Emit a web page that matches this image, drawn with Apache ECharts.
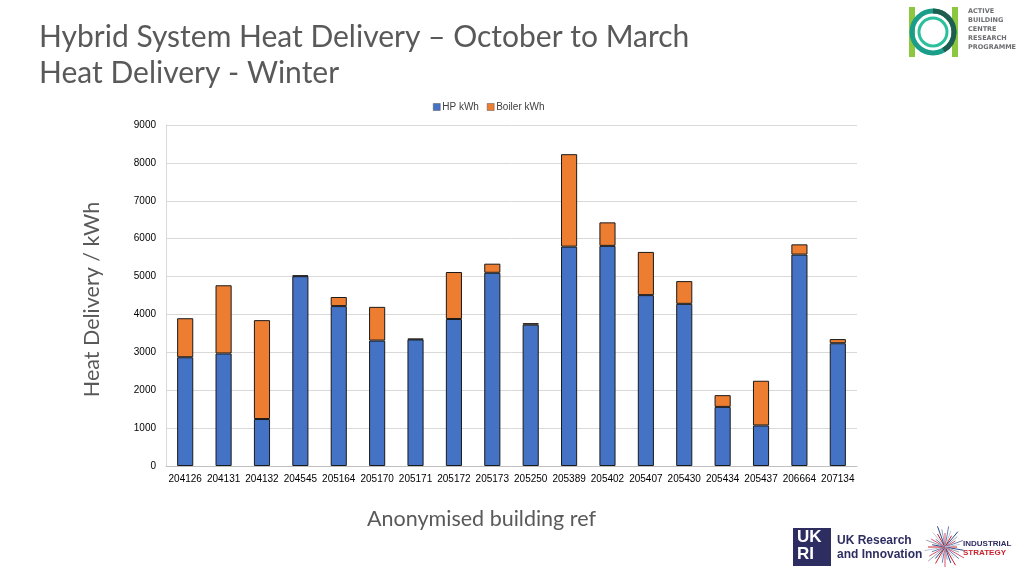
<!DOCTYPE html>
<html>
<head>
<meta charset="utf-8">
<style>html,body{margin:0;padding:0;background:#fff}#c{width:1024px;height:576px}</style>
<script src="https://cdn.jsdelivr.net/npm/echarts@6/dist/echarts.min.js"></script>
</head>
<body>
<div id="c"></div>
<script>
const categories = ['204126','204131','204132','204545','205164','205170','205171','205172','205173','205250','205389','205402','205407','205430','205434','205437','206664','207134'];
const hpKwh =     [2870, 2970, 1240, 5010, 4220, 3310, 3340, 3880, 5100, 3730, 5790, 5810, 4510, 4280, 1560, 1070, 5580, 3240];
const boilerKwh = [1030, 1800, 2610,   20,  240,  890,   20, 1240,  240,   40, 2440,  620, 1140,  600,  310, 1180,  270,  110];
const yTicks = {min: 0, max: 9000, interval: 1000};

const chart = echarts.init(document.getElementById('c'));

// starburst for industrial strategy logo (decorative)
const burst = [];
const bcx = 945, bcy = 547;
const bcols = ['#c8202f','#2b4a8b','#9aa3b5','#d9536a','#6b7fb0','#bfc5d3'];
for (let i = 0; i < 36; i++) {
  const a = i * Math.PI * 2 / 36;
  const r = 12 + (i * 7 % 11);
  burst.push({type:'line', shape:{x1:bcx, y1:bcy, x2:bcx + Math.cos(a)*r, y2:bcy + Math.sin(a)*r},
    style:{stroke:bcols[i % bcols.length], lineWidth:1}, silent:true});
}

chart.setOption({
  animation: false,
  title: {
    text: 'Hybrid System Heat Delivery – October to March\nHeat Delivery - Winter',
    left: 34, top: 14,
    textStyle: {fontFamily: 'Lato', fontSize: 30, fontWeight: 'normal', color: '#595959', lineHeight: 36}
  },
  legend: {
    top: 97, left: 428, itemWidth: 7, itemHeight: 7, itemGap: 8, icon: 'rect',
    itemStyle: {borderWidth: 0.5, borderColor: '#555'},
    textStyle: {fontFamily: 'Liberation Sans', fontSize: 10, color: '#404040', padding: [0, 0, 0, -3]},
    data: ['HP kWh', 'Boiler kWh']
  },
  grid: {left: 166, right: 167, top: 125, bottom: 110, containLabel: false},
  xAxis: {
    type: 'category', data: categories,
    name: 'Anonymised building ref', nameLocation: 'middle', nameGap: 42,
    nameTextStyle: {fontFamily: 'Lato', fontSize: 21.5, color: '#595959', padding: [0, 60, 0, 0]},
    axisLine: {lineStyle: {color: '#bfbfbf'}},
    axisTick: {show: false},
    axisLabel: {fontFamily: 'Liberation Sans', fontSize: 10, color: '#000', margin: 8, interval: 0}
  },
  yAxis: {
    type: 'value', min: yTicks.min, max: yTicks.max, interval: yTicks.interval,
    name: 'Heat Delivery / kWh', nameLocation: 'middle', nameGap: 63, nameRotate: 90,
    nameTextStyle: {fontFamily: 'Lato', fontSize: 21.5, color: '#595959', padding: [0, 8, 0, 0]},
    axisLine: {show: true, lineStyle: {color: '#d9d9d9'}},
    axisTick: {show: false},
    splitLine: {lineStyle: {color: '#d9d9d9'}},
    axisLabel: {fontFamily: 'Liberation Sans', fontSize: 10, color: '#000', margin: 10, formatter: v => String(v)}
  },
  series: [
    {name: 'HP kWh', type: 'bar', stack: 'a', data: hpKwh, barWidth: '42%',
      itemStyle: {color: '#4472C4', borderColor: '#1a1a1a', borderWidth: 1}},
    {name: 'Boiler kWh', type: 'bar', stack: 'a', data: boilerKwh, barWidth: '42%',
      itemStyle: {color: '#ED7D31', borderColor: '#1a1a1a', borderWidth: 1}}
  ],
  graphic: [
    // ABC logo
    {type:'rect', shape:{x:909, y:7, width:6, height:50}, style:{fill:'#8dc63f'}, silent:true},
    {type:'rect', shape:{x:952, y:7, width:6, height:50}, style:{fill:'#8dc63f'}, silent:true},
    {type:'circle', shape:{cx:933, cy:32, r:21}, style:{fill:'none', stroke:'#1a9e8a', lineWidth:5}, silent:true},
    {type:'arc', shape:{cx:933, cy:32, r:21, startAngle:-Math.PI/2, endAngle:Math.PI/3}, style:{fill:'none', stroke:'#1f5e4f', lineWidth:5}, silent:true},
    {type:'circle', shape:{cx:933, cy:32, r:14}, style:{fill:'none', stroke:'#2bbf9b', lineWidth:3}, silent:true},
    {type:'text', left:968, top:7, style:{text:'ACTIVE\nBUILDING\nCENTRE\nRESEARCH\nPROGRAMME', font:'bold 6.5px "DejaVu Sans"', fill:'#6d6e71', lineHeight:9}, silent:true},
    // UKRI logo
    {type:'rect', shape:{x:793, y:528, width:38, height:38}, style:{fill:'#2e2d62'}, silent:true},
    {type:'text', left:797, top:529, style:{text:'UK\nRI', font:'bold 17px "Liberation Sans"', fill:'#fff', lineHeight:17}, silent:true},
    {type:'text', left:837, top:534, style:{text:'UK Research\nand Innovation', font:'bold 12px "Liberation Sans"', fill:'#2e2d62', lineHeight:14}, silent:true},
    ...burst,
    {type:'text', left:963, top:540, style:{text:'INDUSTRIAL', font:'bold 8px "Liberation Sans"', fill:'#2e2d62'}, silent:true},
    {type:'text', left:963, top:549, style:{text:'STRATEGY', font:'bold 8px "Liberation Sans"', fill:'#c8202f'}, silent:true}
  ]
});
</script>
</body>
</html>
